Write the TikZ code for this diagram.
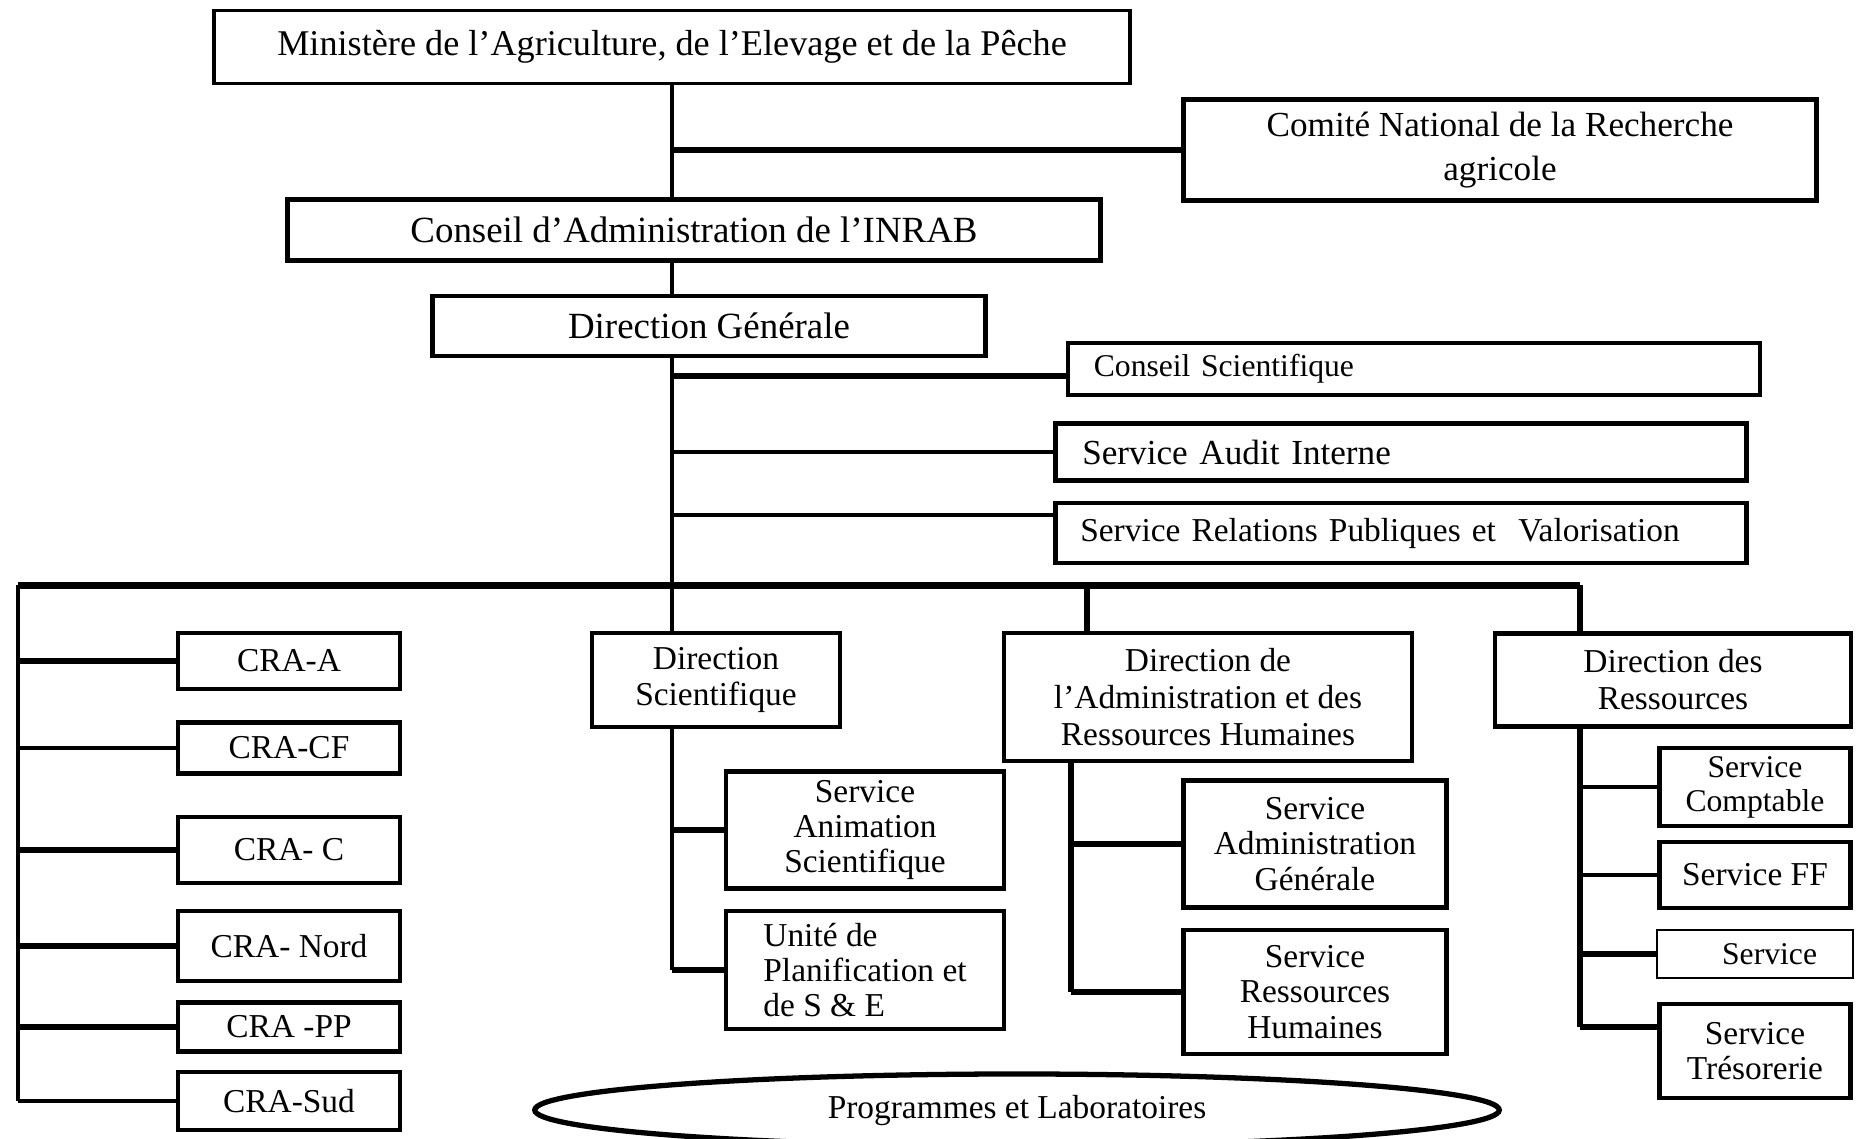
\documentclass[tikz,border=0pt]{standalone}
\usepackage{fontspec}
\setmainfont{Liberation Serif}
\usetikzlibrary{shapes.geometric}

\tikzset{
  unit/.style={draw, line width=1.3pt, fill=white, align=center, inner sep=1pt,
    font=\fontsize{9.5}{10}\selectfont},
  thin link/.style={line width=0.9pt},
  link/.style={line width=1.5pt},
  bus/.style={line width=2pt},
}

\begin{document}
\begin{tikzpicture}[x=0.01cm,y=-0.01cm]
\useasboundingbox (0,0) rectangle (1856,1138);

% top of the chart
\node[unit, line width=1pt, minimum width=9.15cm, minimum height=0.73cm, font=\fontsize{10.3}{12}\selectfont] (min) at (672,47) {Ministère de l’Agriculture, de l’Elevage et de la Pêche};
\node[unit, minimum width=6.33cm, minimum height=1.01cm, font=\fontsize{10}{12.5}\selectfont] (cnr) at (1500,150) {Comité National de la Recherche\\agricole};
\node[unit, minimum width=8.13cm, minimum height=0.61cm, font=\fontsize{10.5}{12}\selectfont] (ca) at (694,230) {Conseil d’Administration de l’INRAB};
\node[unit, minimum width=5.53cm, minimum height=0.60cm, font=\fontsize{10.5}{12}\selectfont] (dg) at (709,326) {Direction Générale};

\node[unit, align=left, text width=6.4cm, inner xsep=0.26cm, minimum height=0.52cm, font=\fontsize{9}{11}\selectfont] (cs) at (1414,369) {Conseil Scientifique};
\node[unit, align=left, text width=6.37cm, inner xsep=0.27cm, minimum height=0.57cm, font=\fontsize{10}{12}\selectfont] (sai) at (1401,452) {Service Audit Interne};
\node[unit, align=left, text width=6.41cm, inner xsep=0.25cm, minimum height=0.60cm] (srp) at (1401,533) {Service Relations Publiques et \ Valorisation};

\coordinate (busl) at (18,585);
\coordinate (busr) at (1580,585);

% regional centres
\node[unit, minimum width=2.22cm, minimum height=0.56cm] (craa) at (289,661) {CRA-A};
\node[unit, minimum width=2.22cm, minimum height=0.51cm] (cracf) at (289,748) {CRA-CF};
\node[unit, minimum width=2.22cm, minimum height=0.66cm] (crac) at (289,850) {CRA- C};
\node[unit, minimum width=2.22cm, minimum height=0.70cm] (cran) at (289,946) {CRA- Nord};
\node[unit, minimum width=2.22cm, minimum height=0.49cm] (crapp) at (289,1027) {CRA -PP};
\node[unit, minimum width=2.22cm, minimum height=0.58cm] (cras) at (289,1101) {CRA-Sud};

% directions
\node[unit, font=\fontsize{9.5}{10.5}\selectfont, minimum width=2.48cm, minimum height=0.94cm] (ds) at (716,680) {Direction\\Scientifique};
\node[unit, minimum width=2.78cm, minimum height=1.17cm] (sas) at (865,830) {Service\\Animation\\Scientifique};
\node[unit, align=left, minimum width=2.78cm, minimum height=1.18cm] (ups) at (865,970) {Unité de\\Planification et\\de S \& E};

\node[unit, font=\fontsize{9.5}{10.5}\selectfont, minimum width=4.08cm, minimum height=1.28cm] (darh) at (1208,697) {Direction de\\l’Administration et des\\Ressources Humaines};
\node[unit, minimum width=2.63cm, minimum height=1.27cm] (sag) at (1315,844) {Service\\Administration\\Générale};
\node[unit, minimum width=2.63cm, minimum height=1.24cm] (srh) at (1315,992) {Service\\Ressources\\Humaines};
\coordinate (ahx) at (1071,0);

\node[unit, font=\fontsize{9.5}{10.5}\selectfont, minimum width=3.56cm, minimum height=0.93cm] (dr) at (1673,680) {Direction des\\Ressources};
\node[unit, font=\fontsize{9}{9.6}\selectfont, minimum width=1.91cm, minimum height=0.78cm] (sc) at (1755,787) {Service\\Comptable};
\node[unit, minimum width=1.91cm, minimum height=0.66cm] (sff) at (1755,875) {Service FF};
\node[unit, line width=0.8pt, align=right, text width=1.24cm, inner xsep=0.36cm, minimum height=0.48cm, font=\fontsize{9}{10}\selectfont] (ssv) at (1755,954) {Service};
\node[unit, minimum width=1.91cm, minimum height=0.94cm] (str) at (1755,1051) {Service\\Trésorerie};

\node[unit, ellipse, line width=1.5pt, minimum width=9.64cm, minimum height=0.72cm, inner sep=0pt] (pl) at (1017,1110) {Programmes et Laboratoires};

% spine
\draw[thin link] (min.south) -- (min.south |- ca.north);
\draw[thin link] (min.south |- ca.south) -- (min.south |- dg.north);
\draw[thin link] (min.south |- dg.south) -- (min.south |- ds.north);
\draw[link] (min.south |- cnr.west) -- (cnr.west);
\draw[link] ([yshift=-0.07cm]min.south |- cs.west) -- ([yshift=-0.07cm]cs.west);
\draw[thin link] (min.south |- sai.west) -- (sai.west);
\draw[thin link] ([yshift=0.18cm]min.south |- srp.west) -- ([yshift=0.18cm]srp.west);

% bus
\draw[bus] (busl) -- (busr);
\draw[thin link] (busl) -- (busl |- cras.west);
\draw[link] (busl |- craa.west) -- (craa.west);
\draw[thin link] (busl |- cracf.west) -- (cracf.west);
\draw[link] (busl |- crac.west) -- (crac.west);
\draw[link] (busl |- cran.west) -- (cran.west);
\draw[link] (busl |- crapp.west) -- (crapp.west);
\draw[thin link] (busl |- cras.west) -- (cras.west);

% scientific direction
\draw[thin link] (min.south |- ds.south) -- (min.south |- ups.west);
\draw[link] (min.south |- sas.west) -- (sas.west);
\draw[link] (min.south |- ups.west) -- (ups.west);

% administration
\draw[link] (darh.north -| 1087,0) -- (1087,585);
\draw[link] (ahx |- darh.south) -- (ahx |- srh.west);
\draw[link] (ahx |- sag.west) -- (sag.west);
\draw[link] (ahx |- srh.west) -- (srh.west);

% resources
\draw[link] (busr) -- (busr |- dr.north);
\draw[link] (busr |- dr.south) -- ([yshift=0.24cm]busr |- str.west);
\draw[thin link] (busr |- sc.west) -- (sc.west);
\draw[thin link] (busr |- sff.west) -- (sff.west);
\draw[link] (busr |- ssv.west) -- (ssv.west);
\draw[link] ([yshift=0.24cm]busr |- str.west) -- ([yshift=0.24cm]str.west);
\end{tikzpicture}
\end{document}
